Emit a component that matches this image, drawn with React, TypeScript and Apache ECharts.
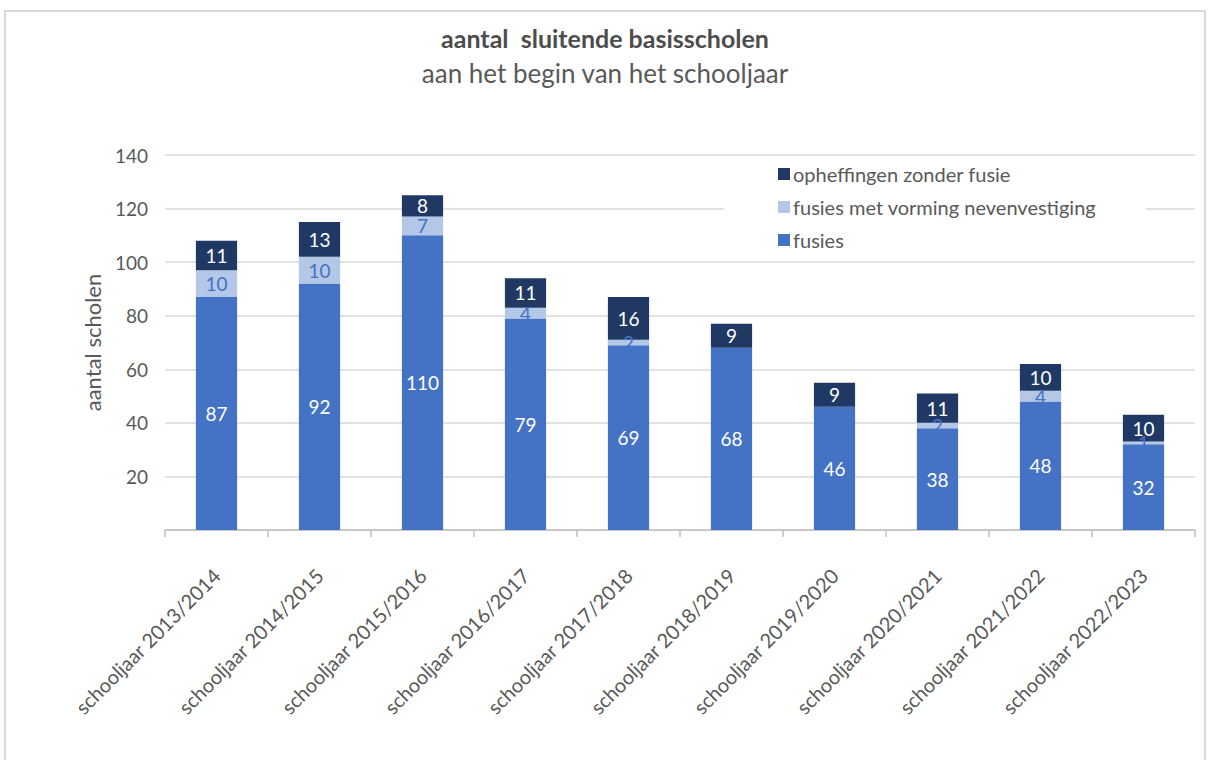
import React, { useEffect, useRef } from "react";
import * as echarts from "echarts";

const categories = [
  "schooljaar 2013/2014",
  "schooljaar 2014/2015",
  "schooljaar 2015/2016",
  "schooljaar 2016/2017",
  "schooljaar 2017/2018",
  "schooljaar 2018/2019",
  "schooljaar 2019/2020",
  "schooljaar 2020/2021",
  "schooljaar 2021/2022",
  "schooljaar 2022/2023",
];
const fusies = [87, 92, 110, 79, 69, 68, 46, 38, 48, 32];
const fusiesNeven = [10, 10, 7, 4, 2, 0, 0, 2, 4, 1];
const opheffingen = [11, 13, 8, 11, 16, 9, 9, 11, 10, 10];
const yTicks = [0, 20, 40, 60, 80, 100, 120, 140];

const FONT = "Lato, 'Open Sans', sans-serif";
const GRAY = "#595959";

export default function App() {
  const ref = useRef<HTMLDivElement>(null);
  useEffect(() => {
    const chart = echarts.init(ref.current!, null, { renderer: "svg" });
    chart.setOption({
      animation: false,
      textStyle: { fontFamily: FONT },
      title: {
        text: "aantal  sluitende basisscholen",
        subtext: "aan het begin van het schooljaar",
        left: "center",
        top: 20,
        itemGap: 10,
        textStyle: { fontSize: 25, fontWeight: "bold", color: "#4d4d4d", fontFamily: FONT },
        subtextStyle: { fontSize: 26, color: GRAY, fontFamily: FONT },
      },
      legend: {
        orient: "vertical",
        left: 724,
        top: 156,
        itemWidth: 12,
        itemHeight: 12,
        itemGap: 13,
        padding: [8, 50, 8, 54],
        backgroundColor: "#ffffff",
        icon: "rect",
        textStyle: { fontSize: 20, color: GRAY, fontFamily: FONT, padding: [0, 0, 0, -2] },
        data: ["opheffingen zonder fusie", "fusies met vorming nevenvestiging", "fusies"],
      },
      grid: { left: 165, right: 15, top: 155, bottom: 230, containLabel: false },
      xAxis: {
        type: "category",
        data: categories,
        axisLine: { lineStyle: { color: "#bfbfbf", width: 1.5 } },
        axisTick: { show: true, length: 7, lineStyle: { color: "#bfbfbf", width: 1.5 } },
        axisLabel: { rotate: 45, fontSize: 20, color: GRAY, margin: 42, fontFamily: FONT },
      },
      yAxis: {
        type: "value",
        min: yTicks[0],
        max: yTicks[yTicks.length - 1],
        interval: 20,
        name: "aantal scholen",
        nameLocation: "middle",
        nameGap: 62,
        nameRotate: 90,
        nameTextStyle: { fontSize: 22, color: GRAY, fontFamily: FONT },
        axisLine: { show: false },
        axisTick: { show: false },
        splitLine: { lineStyle: { color: "#d9d9d9", width: 1.5 } },
        axisLabel: {
          fontSize: 19,
          color: GRAY,
          margin: 17,
          fontFamily: FONT,
          formatter: (v: number) => (v === 0 ? "" : String(v)),
        },
      },
      series: [
        {
          name: "fusies",
          type: "bar",
          stack: "total",
          data: fusies,
          barCategoryGap: "60%",
          itemStyle: { color: "#4472c4" },
          label: { show: true, position: "inside", color: "#ffffff", fontSize: 19, fontFamily: FONT },
        },
        {
          name: "fusies met vorming nevenvestiging",
          type: "bar",
          stack: "total",
          data: fusiesNeven,
          itemStyle: { color: "#b4c7e7" },
          label: {
            show: true,
            position: "inside",
            color: "#4472c4",
            fontSize: 19,
            fontFamily: FONT,
            formatter: (p: any) => (p.value ? String(p.value) : ""),
          },
        },
        {
          name: "opheffingen zonder fusie",
          type: "bar",
          stack: "total",
          data: opheffingen,
          itemStyle: { color: "#203864" },
          label: { show: true, position: "inside", color: "#ffffff", fontSize: 19, fontFamily: FONT },
        },
      ],
    });
    return () => chart.dispose();
  }, []);
  return (
    <div
      style={{
        position: "absolute",
        left: 4,
        top: 10,
        width: 1202,
        height: 752,
        border: "2px solid #d9d9d9",
        boxSizing: "border-box",
        background: "#fff",
      }}
    >
      <div ref={ref} style={{ position: "absolute", left: -6, top: -12, width: 1210, height: 760 }} />
    </div>
  );
}
